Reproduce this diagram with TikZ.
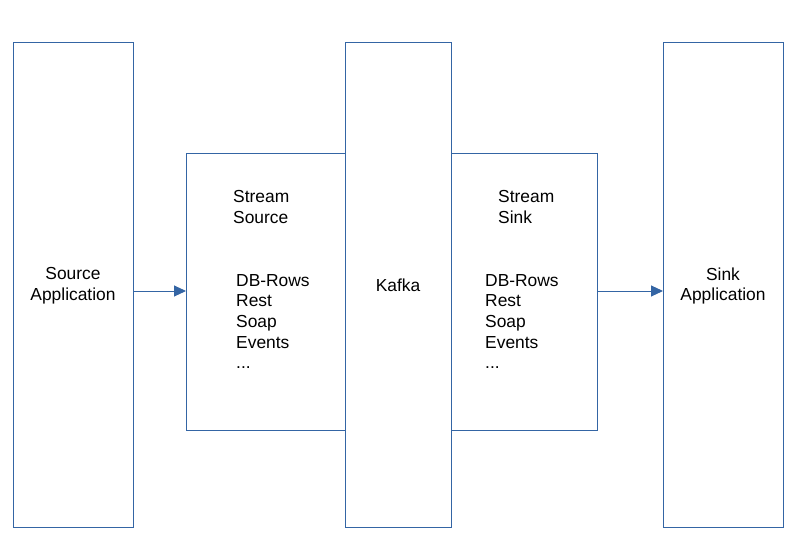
\documentclass[tikz,border=0pt]{standalone}
\usepackage{fontspec}
\setmainfont{Liberation Sans}
\usetikzlibrary{arrows.meta, positioning}
\definecolor{edgeblue}{HTML}{3465A4}

\begin{document}
\begin{tikzpicture}[
  x=1pt, y=-1pt,
  >={Triangle[length=12pt,width=11pt]},
  font=\fontsize{17.4}{20.7}\selectfont,
  block/.style={draw=edgeblue, line width=1pt, fill=white, anchor=north west, inner sep=0pt},
  label/.style={anchor=north west, align=left, inner sep=0pt},
  flow/.style={->, draw=edgeblue, fill=edgeblue, line width=1pt}
]
\useasboundingbox (0,0) rectangle (794,559);

% OUTER BLOCKS
\node[block, minimum width=120pt, minimum height=485pt] (src) at (13,42) {};
\node[block, minimum width=159pt, minimum height=277pt] (ssource) at (186,153) {};
\node[block, minimum width=146pt, minimum height=277pt] (ssink) at (451,153) {};
\node[block, minimum width=106pt, minimum height=485pt] (kafka) at (345,42) {};
\node[block, minimum width=120pt, minimum height=485pt] (sink) at (663,42) {};

% TEXTS
\node[align=center] (srclabel) at (73,286) {Source\\Application};
\node (kafkalabel) at (398,285) {Kafka};
\node[align=center] (sinklabel) at (723,286) {Sink\\Application};

\node[label] (ssourcetitle) at (233,190) {Stream\\Source};
\node[label] (ssourcelist) at (236,274) {DB-Rows\\Rest\\Soap\\Events\\...};
\node[label] (ssinktitle) at (498,190) {Stream\\Sink};
\node[label] (ssinklist) at (485,274) {DB-Rows\\Rest\\Soap\\Events\\...};

% CONNECTORS
\draw[flow] (src.east |- 0,291) -- (ssource.west |- 0,291);
\draw[flow] (ssink.east |- 0,291) -- (sink.west |- 0,291);

\end{tikzpicture}
\end{document}
